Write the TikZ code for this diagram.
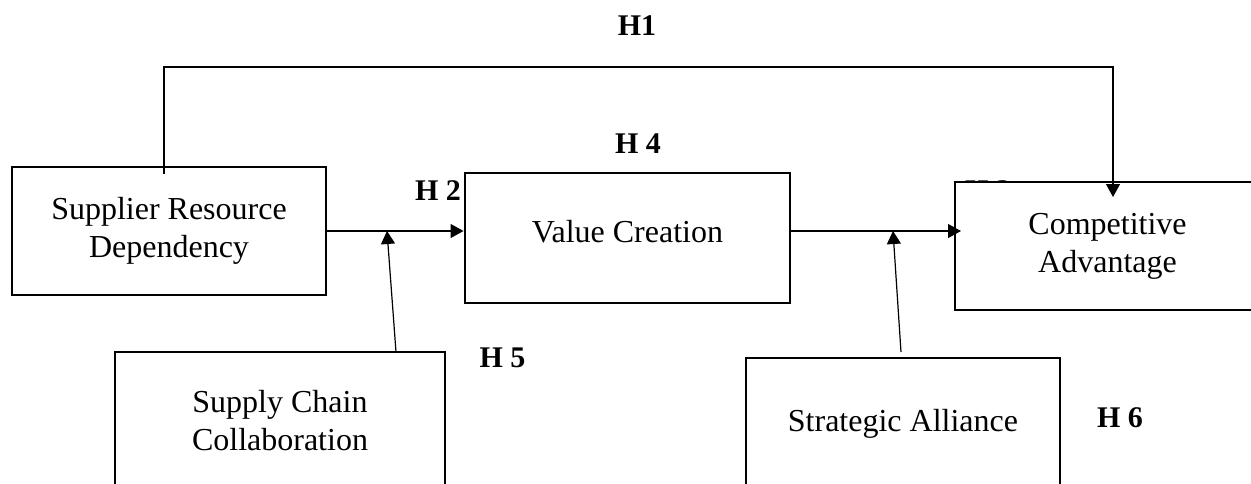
\documentclass[tikz,border=0pt]{standalone}
\usepackage{fontspec}
\setmainfont{Liberation Serif}
\usetikzlibrary{arrows.meta}
\begin{document}
\begin{tikzpicture}[x=1pt,y=-1pt,
  box/.style={draw, line width=2.9pt, rectangle, inner sep=0pt, align=center, fill=white,
    font=\fontsize{32}{38}\selectfont},
  boxtext/.style={font=\fontsize{32}{38}\selectfont, align=center, inner sep=0pt},
  hlab/.style={font=\bfseries\fontsize{30}{36}\selectfont, inner sep=0pt},
  conn/.style={line width=1.2pt},
  arr/.style={conn, -{Triangle[length=13pt,width=14pt]}}]
\useasboundingbox (0,0) rectangle (1251,483);
\clip (0,0) rectangle (1251,483);

% hidden label behind Competitive Advantage
\node[hlab, anchor=base west] (h3) at (965,200) {H 3};

% boxes
\node[box, minimum width=314pt, minimum height=128pt] (srd) at (169,231) {Supplier Resource\\Dependency};
\node[box, minimum width=325pt, minimum height=130pt] (vc) at (627.5,238) {};
\node[boxtext] (vct) at (627.5,232) {Value Creation};
\node[box, minimum width=305pt, minimum height=128pt] (ca) at (1107.5,246) {Competitive\\Advantage};
\node[box, minimum width=330pt, minimum height=138pt] (scc) at (280,421) {Supply Chain\\Collaboration};
\node[box, minimum width=314pt, minimum height=132pt] (sa) at (903,424) {Strategic Alliance};

% hypothesis labels
\node[hlab, anchor=base] (h1) at (637,35) {H1};
\node[hlab, anchor=base] (h4) at (638,153) {H 4};
\node[hlab, anchor=base] (h2) at (438,200) {H 2};
\node[hlab, anchor=base] (h5) at (502.5,367) {H 5};
\node[hlab, anchor=base] (h6) at (1120,427) {H 6};

% coordinates
\coordinate (h1s) at (164,174);
\coordinate (h1a) at (164,67);
\coordinate (h1b) at (1113,67);
\coordinate (h1e) at (1113,197);
\coordinate (m1) at (387,231);
\coordinate (m1s) at (396,352);
\coordinate (m2) at (893,231);
\coordinate (m2s) at (901,352);
\coordinate (cain) at (961,231);

% connectors
\draw[arr] (h1s) -- (h1a) -- (h1b) -- (h1e);
\draw[arr] (srd.east) -- (vc.west |- srd.east);
\draw[arr] (m1s) -- (m1);
\draw[arr] (vc.east |- srd.east) -- (cain);
\draw[arr] (m2s) -- (m2);
\end{tikzpicture}
\end{document}
